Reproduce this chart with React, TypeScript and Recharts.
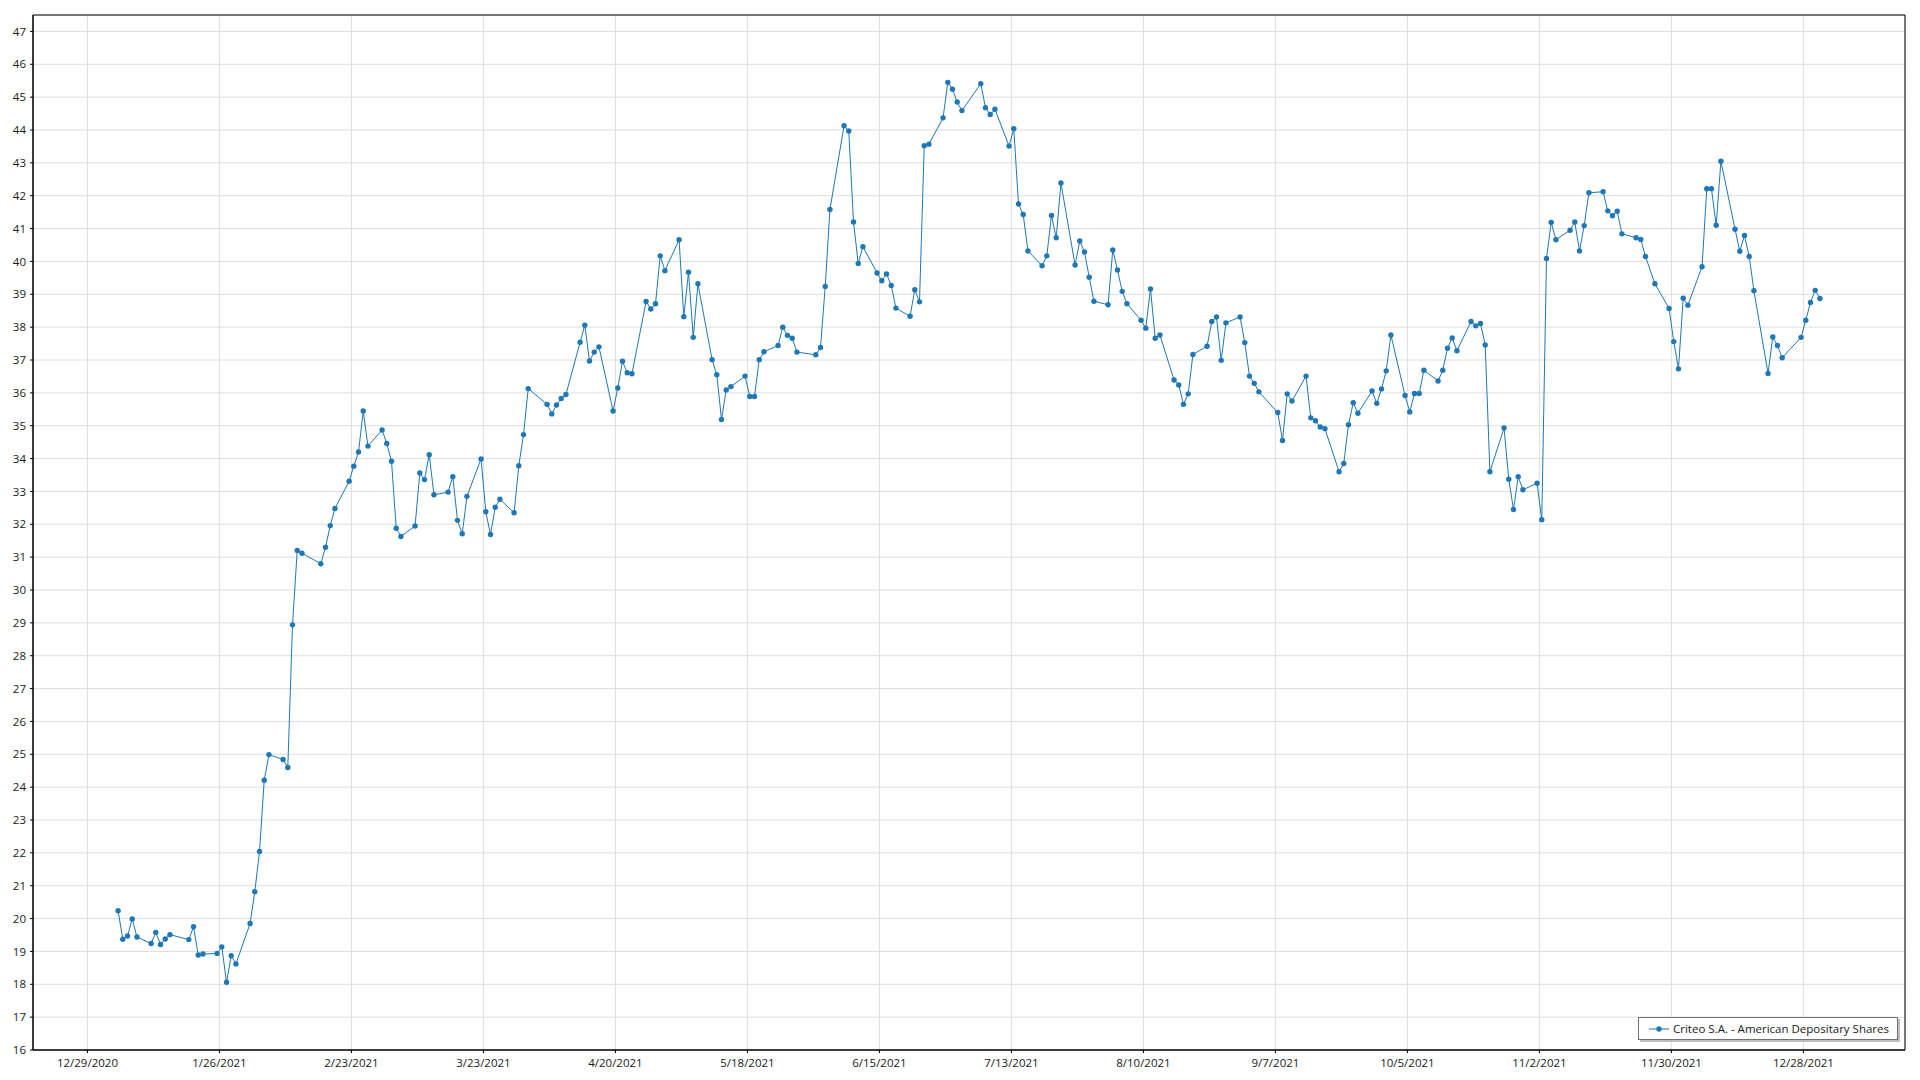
import React from "react";
import { LineChart, Line, XAxis, YAxis, CartesianGrid, ReferenceArea } from "recharts";

const seriesName = "Criteo S.A. - American Depositary Shares";

const tradeDates = [
  "2021-01-04","2021-01-05","2021-01-06","2021-01-07","2021-01-08","2021-01-11","2021-01-12","2021-01-13","2021-01-14","2021-01-15","2021-01-19","2021-01-20","2021-01-21","2021-01-22","2021-01-25","2021-01-26","2021-01-27","2021-01-28","2021-01-29",
  "2021-02-01","2021-02-02","2021-02-03","2021-02-04","2021-02-05","2021-02-08","2021-02-09","2021-02-10","2021-02-11","2021-02-12","2021-02-16","2021-02-17","2021-02-18","2021-02-19","2021-02-22","2021-02-23","2021-02-24","2021-02-25","2021-02-26",
  "2021-03-01","2021-03-02","2021-03-03","2021-03-04","2021-03-05","2021-03-08","2021-03-09","2021-03-10","2021-03-11","2021-03-12","2021-03-15","2021-03-16","2021-03-17","2021-03-18","2021-03-19","2021-03-22","2021-03-23","2021-03-24","2021-03-25","2021-03-26","2021-03-29","2021-03-30","2021-03-31",
  "2021-04-01","2021-04-05","2021-04-06","2021-04-07","2021-04-08","2021-04-09","2021-04-12","2021-04-13","2021-04-14","2021-04-15","2021-04-16","2021-04-19","2021-04-20","2021-04-21","2021-04-22","2021-04-23","2021-04-26","2021-04-27","2021-04-28","2021-04-29","2021-04-30",
  "2021-05-03","2021-05-04","2021-05-05","2021-05-06","2021-05-07","2021-05-10","2021-05-11","2021-05-12","2021-05-13","2021-05-14","2021-05-17","2021-05-18","2021-05-19","2021-05-20","2021-05-21","2021-05-24","2021-05-25","2021-05-26","2021-05-27","2021-05-28",
  "2021-06-01","2021-06-02","2021-06-03","2021-06-04","2021-06-07","2021-06-08","2021-06-09","2021-06-10","2021-06-11","2021-06-14","2021-06-15","2021-06-16","2021-06-17","2021-06-18","2021-06-21","2021-06-22","2021-06-23","2021-06-24","2021-06-25","2021-06-28","2021-06-29","2021-06-30",
  "2021-07-01","2021-07-02","2021-07-06","2021-07-07","2021-07-08","2021-07-09","2021-07-12","2021-07-13","2021-07-14","2021-07-15","2021-07-16","2021-07-19","2021-07-20","2021-07-21","2021-07-22","2021-07-23","2021-07-26","2021-07-27","2021-07-28","2021-07-29","2021-07-30",
  "2021-08-02","2021-08-03","2021-08-04","2021-08-05","2021-08-06","2021-08-09","2021-08-10","2021-08-11","2021-08-12","2021-08-13","2021-08-16","2021-08-17","2021-08-18","2021-08-19","2021-08-20","2021-08-23","2021-08-24","2021-08-25","2021-08-26","2021-08-27","2021-08-30","2021-08-31",
  "2021-09-01","2021-09-02","2021-09-03","2021-09-07","2021-09-08","2021-09-09","2021-09-10","2021-09-13","2021-09-14","2021-09-15","2021-09-16","2021-09-17","2021-09-20","2021-09-21","2021-09-22","2021-09-23","2021-09-24","2021-09-27","2021-09-28","2021-09-29","2021-09-30",
  "2021-10-01","2021-10-04","2021-10-05","2021-10-06","2021-10-07","2021-10-08","2021-10-11","2021-10-12","2021-10-13","2021-10-14","2021-10-15","2021-10-18","2021-10-19","2021-10-20","2021-10-21","2021-10-22","2021-10-25","2021-10-26","2021-10-27","2021-10-28","2021-10-29",
  "2021-11-01","2021-11-02","2021-11-03","2021-11-04","2021-11-05","2021-11-08","2021-11-09","2021-11-10","2021-11-11","2021-11-12","2021-11-15","2021-11-16","2021-11-17","2021-11-18","2021-11-19","2021-11-22","2021-11-23","2021-11-24","2021-11-26","2021-11-29","2021-11-30",
  "2021-12-01","2021-12-02","2021-12-03","2021-12-06","2021-12-07","2021-12-08","2021-12-09","2021-12-10","2021-12-13","2021-12-14","2021-12-15","2021-12-16","2021-12-17","2021-12-20","2021-12-21","2021-12-22","2021-12-23","2021-12-27","2021-12-28","2021-12-29","2021-12-30","2021-12-31",
];

const closePrices = [
  20.24,19.37,19.47,19.99,19.44,19.24,19.58,19.21,19.38,19.51,19.36,19.75,18.89,18.92,18.94,19.14,18.06,18.87,18.62,
  19.85,20.82,22.04,24.21,24.99,24.84,24.60,28.94,31.20,31.12,30.80,31.30,31.96,32.48,33.31,33.77,34.20,35.45,34.38,
  34.87,34.46,33.92,31.88,31.63,31.95,33.56,33.36,34.12,32.90,32.98,33.45,32.12,31.71,32.85,33.99,32.38,31.69,32.52,32.76,32.35,33.78,34.73,
  36.13,35.65,35.36,35.63,35.83,35.95,37.54,38.06,36.97,37.24,37.40,35.45,36.15,36.96,36.61,36.58,38.78,38.55,38.71,40.17,39.72,
  40.66,38.32,39.67,37.69,39.32,37.01,36.55,35.19,36.09,36.19,36.51,35.89,35.89,37.01,37.25,37.44,38.00,37.75,37.66,37.24,
  37.16,37.38,39.24,41.58,44.13,43.97,41.20,39.94,40.45,39.65,39.41,39.62,39.27,38.58,38.33,39.14,38.77,43.52,43.57,44.37,45.45,45.24,
  44.85,44.59,45.41,44.68,44.47,44.63,43.51,44.04,41.75,41.43,40.32,39.87,40.17,41.40,40.72,42.39,39.89,40.62,40.29,39.52,38.79,
  38.68,40.35,39.74,39.09,38.71,38.21,37.97,39.16,37.66,37.76,36.39,36.24,35.65,35.97,37.17,37.42,38.17,38.31,36.99,38.13,38.31,37.53,
  36.51,36.29,36.03,35.40,34.55,35.97,35.75,36.51,35.24,35.15,34.96,34.91,33.60,33.85,35.03,35.70,35.38,36.06,35.68,36.12,36.67,
  37.76,35.92,35.42,35.98,35.98,36.69,36.36,36.69,37.36,37.67,37.28,38.17,38.04,38.11,37.46,33.60,34.93,33.37,32.45,33.45,33.05,
  33.25,32.14,40.09,41.19,40.66,40.95,41.20,40.32,41.09,42.09,42.12,41.54,41.39,41.53,40.84,40.72,40.67,40.15,39.32,38.57,37.56,
  36.73,38.88,38.67,39.84,42.21,42.21,41.10,43.05,40.98,40.31,40.79,40.15,39.11,36.59,37.70,37.44,37.07,37.69,38.21,38.75,39.12,38.87,
];

const xTickDates = [
  "2020-12-29","2021-01-26","2021-02-23","2021-03-23","2021-04-20","2021-05-18","2021-06-15",
  "2021-07-13","2021-08-10","2021-09-07","2021-10-05","2021-11-02","2021-11-30","2021-12-28",
];

const yTickValues = [16,17,18,19,20,21,22,23,24,25,26,27,28,29,30,31,32,33,34,35,36,37,38,39,40,41,42,43,44,45,46,47];

const LINE_COLOR = "#1f77b4";
const FONT = "'Open Sans', 'Noto Sans', sans-serif";

const toNoon = (d: string) => Date.parse(d + "T12:00:00Z");
const toMidnight = (d: string) => Date.parse(d + "T00:00:00Z");

const data = tradeDates.map((d, i) => ({ t: toNoon(d), close: closePrices[i] }));
const tFirst = data[0].t;
const tLast = data[data.length - 1].t;
const xPad = (tLast - tFirst) * 0.05;
const xDomain: [number, number] = [tFirst - xPad, tLast + xPad];
const yDomain: [number, number] = [16, 47.5];
const xTicks = xTickDates.map(toMidnight);
const yMinorTicks: number[] = [];
for (let k = 160; k <= 475; k += 2) yMinorTicks.push(k / 10);

const fmtDate = (t: number) => {
  const d = new Date(t);
  return `${d.getUTCMonth() + 1}/${d.getUTCDate()}/${d.getUTCFullYear()}`;
};

const tickStyle = { fontFamily: FONT, fontSize: 11.5, fill: "#1a1a1a" };

export default function App() {
  return (
    <div style={{ position: "absolute", left: 0, top: 0, width: 1920, height: 1080, background: "#fff" }}>
      <LineChart width={1920} height={1080} data={data} margin={{ top: 15, right: 15, bottom: 0, left: 0 }}>
        <CartesianGrid stroke="#dedede" strokeWidth={1} xAxisId="x" yAxisId="y" />
        <XAxis
          xAxisId="x"
          dataKey="t"
          type="number"
          scale="time"
          domain={xDomain}
          ticks={xTicks}
          tickFormatter={fmtDate}
          height={30}
          tickSize={3}
          tickMargin={6}
          tick={tickStyle}
          stroke="#000"
          allowDataOverflow
        />
        <YAxis
          yAxisId="y"
          type="number"
          domain={yDomain}
          ticks={yTickValues}
          width={33}
          tickSize={3}
          tickMargin={4}
          tick={tickStyle}
          stroke="#000"
          allowDataOverflow
        />
        <YAxis
          yAxisId="minor"
          type="number"
          domain={yDomain}
          ticks={yMinorTicks}
          width={0}
          tickSize={2}
          tick={false}
          axisLine={false}
          stroke="#000"
          allowDataOverflow
        />
        <ReferenceArea
          xAxisId="x"
          yAxisId="y"
          x1={xDomain[0]}
          x2={xDomain[1]}
          y1={yDomain[0]}
          y2={yDomain[1]}
          fill="none"
          stroke="#000"
          strokeWidth={1}
          ifOverflow="visible"
        />
        <Line
          xAxisId="x"
          yAxisId="y"
          dataKey="close"
          name={seriesName}
          type="linear"
          stroke={LINE_COLOR}
          strokeWidth={1}
          dot={{ r: 2.7, fill: LINE_COLOR, stroke: "none" }}
          activeDot={false}
          isAnimationActive={false}
        />
      </LineChart>
      <div
        style={{
          position: "absolute",
          left: 1638,
          top: 1017,
          width: 258,
          height: 21,
          border: "1px solid #707070",
          boxShadow: "2px 2px 0 #bdbdbd",
          background: "#fff",
          display: "flex",
          alignItems: "center",
          fontFamily: FONT,
          fontSize: 11.5,
          color: "#1a1a1a",
          boxSizing: "content-box",
        }}
      >
        <svg width={20} height={10} style={{ marginLeft: 10, marginRight: 4 }}>
          <line x1={0} y1={5} x2={20} y2={5} stroke={LINE_COLOR} strokeWidth={1} />
          <circle cx={10} cy={5} r={2.7} fill={LINE_COLOR} />
        </svg>
        <span style={{ whiteSpace: "nowrap" }}>{seriesName}</span>
      </div>
    </div>
  );
}
